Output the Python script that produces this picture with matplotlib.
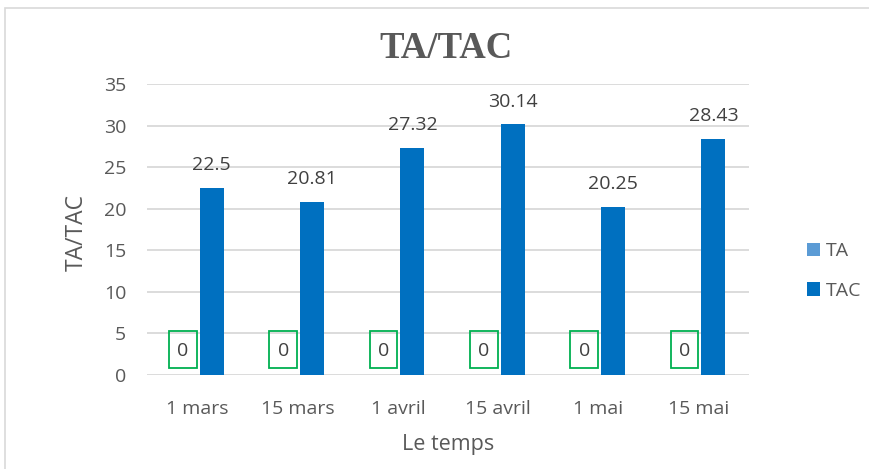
import matplotlib.pyplot as plt
import matplotlib.patches as patches
import numpy as np

# data
dates = ["1 mars", "15 mars", "1 avril", "15 avril", "1 mai", "15 mai"]
ta = [0, 0, 0, 0, 0, 0]
tac = [22.5, 20.81, 27.32, 30.14, 20.25, 28.43]
tac_labels = ["22.5", "20.81", "27.32", "30.14", "20.25", "28.43"]

plt.rcParams['font.family'] = ['Open Sans', 'DejaVu Sans']

fig = plt.figure(figsize=(8.7, 4.69), dpi=100)
ax = fig.add_axes([147 / 870, 94 / 469, 602 / 870, 291 / 469])

# light gray frame around the chart
fig.patches.append(patches.Rectangle((5 / 870, -0.05), 1.0, (469 - 8) / 469 + 0.05,
                                     transform=fig.transFigure, fill=False,
                                     edgecolor='#D9D9D9', linewidth=1.2))

x = np.arange(len(dates))
w = 0.24
ax.bar(x - 0.115, ta, w, color='#5B9BD5', label='TA', zorder=3)
bars = ax.bar(x + 0.145, tac, w, color='#0070C0', label='TAC', zorder=3)

for b, lab in zip(bars, tac_labels):
    ax.annotate(lab, (b.get_x() + b.get_width() / 2, b.get_height()),
                xytext=(0, 10), textcoords='offset points', ha='center', va='bottom',
                fontsize=14, color='#404040')

# "0" labels for TA with green boxes
for xi, v in zip(x, ta):
    ax.text(xi - 0.14, v + 2.9, str(v), ha='center', va='center',
            fontsize=14, color='#404040', zorder=4)
    ax.add_patch(patches.Rectangle((xi - 0.28, 0.85), 0.275, 4.45, fill=False,
                                   edgecolor='#00B050', linewidth=1.3, zorder=4))

ax.set_xlim(-0.5, len(dates) - 0.5)
ax.set_ylim(0, 35)
ax.set_yticks(range(0, 36, 5))
ax.set_xticks(x)
ax.set_xticklabels(dates)
ax.tick_params(length=0, labelsize=14, labelcolor='#595959')
ax.tick_params(axis='x', pad=18)
ax.tick_params(axis='y', pad=15)
ax.grid(axis='y', color='#D9D9D9', linewidth=1.3, zorder=0)
for s in ax.spines.values():
    s.set_visible(False)

fig.text(448 / 870, (469 - 444) / 469, "Le temps", ha='center', va='center',
         fontsize=15.5, color='#595959')
fig.text(77 / 870, (469 - 232) / 469, "TA/TAC", ha='center', va='center',
         rotation=90, fontsize=16.5, color='#595959')

fig.text(446 / 870, (469 - 49) / 469, "TA/TAC", ha='center', va='center',
         fontsize=26.5, fontweight='bold', family='Liberation Serif', color='#595959')

fig.legend(handles=ax.containers, labels=['TA', 'TAC'], loc='center left',
           bbox_to_anchor=(797 / 870, (469 - 271) / 469), frameon=False,
           fontsize=14, labelcolor='#595959', handlelength=0.7, handleheight=0.7,
           labelspacing=1.1, handletextpad=0.3, borderpad=0)

fig.savefig("out.png", dpi=100)
